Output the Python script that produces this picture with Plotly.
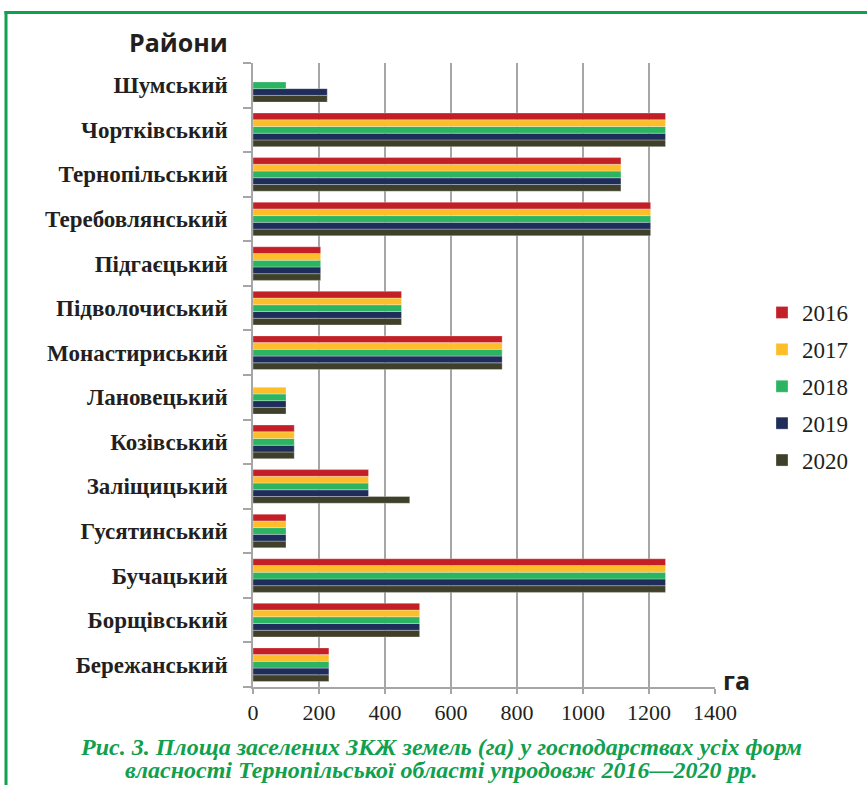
import plotly.graph_objects as go

# Data (categories listed bottom to top)
districts = ["Бережанський", "Борщівський", "Бучацький", "Гусятинський", "Заліщицький",
             "Козівський", "Лановецький", "Монастириський", "Підволочиський", "Підгаєцький",
             "Теребовлянський", "Тернопільський", "Чортківський", "Шумський"]
years = ["2016", "2017", "2018", "2019", "2020"]
v2016 = [230, 505, 1250, 100, 350, 125, None, 755, 450, 205, 1205, 1115, 1250, None]
v2017 = [230, 505, 1250, 100, 350, 125, 100, 755, 450, 205, 1205, 1115, 1250, None]
v2018 = [230, 505, 1250, 100, 350, 125, 100, 755, 450, 205, 1205, 1115, 1250, 100]
v2019 = [230, 505, 1250, 100, 350, 125, 100, 755, 450, 205, 1205, 1115, 1250, 225]
v2020 = [230, 505, 1250, 100, 475, 125, 100, 755, 450, 205, 1205, 1115, 1250, 225]
values = [v2016, v2017, v2018, v2019, v2020]
colors = ["#C31F27", "#FDBE2A", "#2BB462", "#1E2D5A", "#3F402A"]
x_ticks = [0, 200, 400, 600, 800, 1000, 1200, 1400]

W, H = 867, 785
L, R, T, B = 253, 152, 63, 98
pw, ph = W - L - R, H - T - B

def px(x):
    return (x - L) / pw

def py(y):
    return (H - B - y) / ph

fig = go.Figure()
items = list(zip(years, values, colors))
for rank, (yr, vals, col) in reversed(list(enumerate(items))):
    fig.add_trace(go.Bar(
        y=districts, x=vals, name=yr, orientation="h",
        marker=dict(color=col, line=dict(width=0.6, color="rgba(255,255,255,0.5)")),
        legendgroup=yr, legendrank=rank + 1,
    ))

cap_font = dict(family="Liberation Serif", size=24, color="#10A04E", weight="bold", style="italic")

fig.update_layout(
    width=W, height=H,
    margin=dict(l=L, r=R, t=T, b=B, pad=0),
    paper_bgcolor="white", plot_bgcolor="white",
    barmode="group", bargap=0.245, bargroupgap=0,
    font=dict(family="Liberation Serif", color="#231F20"),
    legend=dict(
        x=px(762), y=py(291), xanchor="left", yanchor="top",
        traceorder="grouped", tracegroupgap=4,
        font=dict(family="Liberation Serif", size=23, color="#231F20"),
        bgcolor="rgba(0,0,0,0)",
    ),
    xaxis=dict(
        range=[0, 1400], tickvals=x_ticks, ticktext=[str(t) for t in x_ticks],
        showgrid=True, gridcolor="#A6A6A6", gridwidth=1.5,
        showline=True, linecolor="#A6A6A6", linewidth=1.5,
        ticks="outside", ticklen=5, tickcolor="#A6A6A6", tickwidth=1.5,
        tickfont=dict(family="Liberation Serif", size=22, color="#231F20"),
        zeroline=False, fixedrange=True,
    ),
    yaxis=dict(
        type="category", categoryorder="array", categoryarray=districts,
        tickson="boundaries", ticks="outside", ticklen=8, tickcolor="#A6A6A6", tickwidth=1.5,
        showline=True, linecolor="#A6A6A6", linewidth=1.5, showgrid=False,
        tickfont=dict(family="Liberation Serif", size=23, color="#231F20", weight="bold"),
        ticklabelstandoff=19, fixedrange=True,
    ),
    annotations=[
        dict(text="Райони", x=px(230), y=py(42), xref="paper", yref="paper",
             xanchor="right", yanchor="middle", showarrow=False,
             font=dict(family="Open Sans", size=25, color="#231F20", weight="bold")),
        dict(text="га", x=px(721), y=py(680), xref="paper", yref="paper",
             xanchor="left", yanchor="middle", showarrow=False,
             font=dict(family="Open Sans", size=25, color="#231F20", weight="bold")),
        dict(text="Рис. 3. Площа заселених ЗКЖ земель (га) у господарствах усіх форм",
             x=px(441), y=py(747), xref="paper", yref="paper",
             xanchor="center", yanchor="middle", showarrow=False, font=cap_font),
        dict(text="власності Тернопільської області упродовж 2016—2020 рр.",
             x=px(441), y=py(770), xref="paper", yref="paper",
             xanchor="center", yanchor="middle", showarrow=False, font=cap_font),
    ],
    shapes=[
        dict(type="line", xref="paper", yref="paper", x0=px(4.5), x1=px(W), y0=py(12.5), y1=py(12.5),
             line=dict(color="#10A04E", width=3)),
        dict(type="line", xref="paper", yref="paper", x0=px(6), x1=px(6), y0=py(11), y1=py(H),
             line=dict(color="#10A04E", width=3)),
    ],
)

fig.write_html("out.html", config={"displayModeBar": False},
               post_script="document.body.style.margin='0';document.body.style.padding='0';")
